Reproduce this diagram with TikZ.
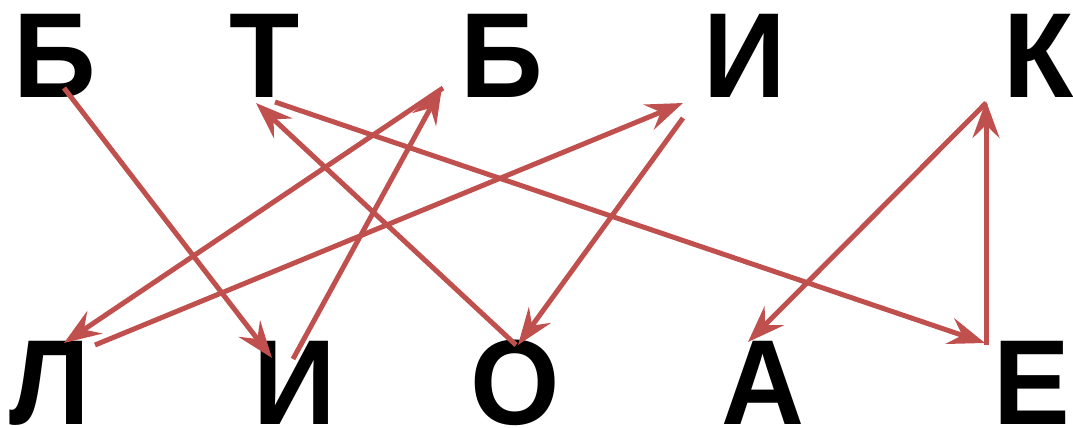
\documentclass[tikz,border=0pt]{standalone}
\usepackage{fontspec}
\setmainfont{Liberation Sans}
\newfontfamily\letterfont[FakeStretch=0.95]{Liberation Sans Bold}
\usetikzlibrary{arrows.meta}
\definecolor{arrred}{HTML}{C0504D}
\tikzset{
  lt/.style={anchor=base, inner sep=0pt, font=\fontsize{121}{121}\letterfont},
  conn/.style={draw=arrred, line width=5pt, -{Stealth[length=37pt,width=27pt,inset=13pt]}}
}
\begin{document}
\begin{tikzpicture}[x=1pt,y=-1pt]
\useasboundingbox (0,0) rectangle (1073,428);
% top row
\node[lt] (b1) at (55,97) {Б};
\node[lt] (t1) at (265,97) {Т};
\node[lt] (b2) at (502,97) {Б};
\node[lt] (i1) at (745,97) {И};
\node[lt] (k1) at (1039,97) {К};
% bottom row
\node[lt] (l2) at (50,424) {Л};
\node[lt] (i2) at (295,424) {И};
\node[lt] (o2) at (515,424) {О};
\node[lt] (a2) at (763,424) {А};
\node[lt] (e2) at (1032,424) {Е};
% endpoints
\coordinate (s1) at (64,88);   \coordinate (e1) at (272,358);
\coordinate (s2) at (275,102); \coordinate (e2p) at (985,343);
\coordinate (s3) at (443,88);  \coordinate (e3) at (64,343);
\coordinate (s4) at (293,359); \coordinate (e4) at (442,87);
\coordinate (s5) at (95,345);  \coordinate (e5) at (683,103);
\coordinate (s6) at (683,118); \coordinate (e6) at (518,345);
\coordinate (s7) at (516,345); \coordinate (e7) at (256,103);
\coordinate (s8) at (986,103); \coordinate (e8) at (748,342);
\coordinate (s9) at (986,345); \coordinate (e9) at (986,101);
\draw[conn] (s1) -- (e1);
\draw[conn] (s2) -- (e2p);
\draw[conn] (s3) -- (e3);
\draw[conn] (s4) -- (e4);
\draw[conn] (s5) -- (e5);
\draw[conn] (s6) -- (e6);
\draw[conn] (s7) -- (e7);
\draw[conn] (s8) -- (e8);
\draw[conn] (s9) -- (e9);
\end{tikzpicture}
\end{document}
